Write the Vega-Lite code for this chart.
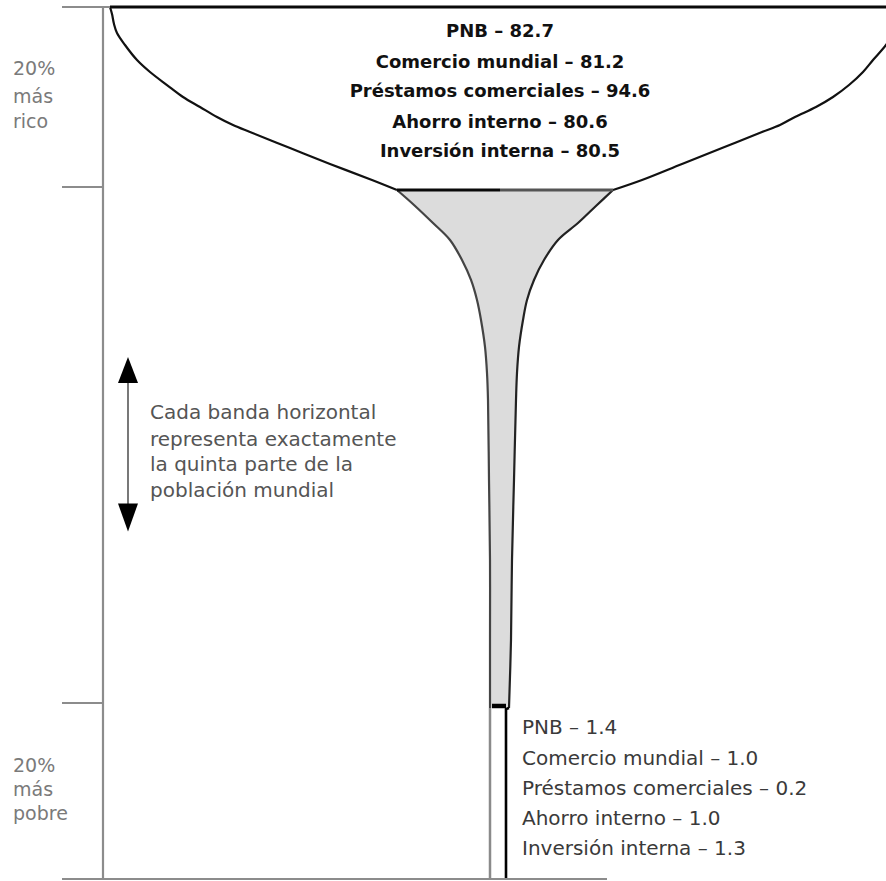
{
  "$schema": "https://vega.github.io/schema/vega-lite/v6.json",
  "width": 886,
  "height": 881,
  "autosize": "none",
  "padding": 0,
  "background": "white",
  "config": {"view": {"stroke": null}},
  "datasets": {
    "copa": [
      {"pop": 100, "izq": -390, "der": 412, "tramo": "rico"},
      {"pop": 99.22, "izq": -388, "der": 408, "tramo": "rico"},
      {"pop": 98.11, "izq": -386, "der": 399, "tramo": "rico"},
      {"pop": 97.11, "izq": -383, "der": 393, "tramo": "rico"},
      {"pop": 95.78, "izq": -375, "der": 386, "tramo": "rico"},
      {"pop": 94.11, "izq": -363, "der": 373, "tramo": "rico"},
      {"pop": 92.78, "izq": -350, "der": 363, "tramo": "rico"},
      {"pop": 91.33, "izq": -333, "der": 349, "tramo": "rico"},
      {"pop": 90.0, "izq": -317, "der": 333, "tramo": "rico"},
      {"pop": 88.89, "izq": -300, "der": 316, "tramo": "rico"},
      {"pop": 87.78, "izq": -283, "der": 295, "tramo": "rico"},
      {"pop": 86.89, "izq": -267, "der": 280, "tramo": "rico"},
      {"pop": 86.11, "izq": -250, "der": 262, "tramo": "rico"},
      {"pop": 84.33, "izq": -210, "der": 222, "tramo": "rico"},
      {"pop": 82.56, "izq": -170, "der": 182, "tramo": "rico"},
      {"pop": 80.78, "izq": -128, "der": 142, "tramo": "rico"},
      {"pop": 79.65, "izq": -103, "der": 113, "tramo": "medio"},
      {"pop": 77.91, "izq": -86, "der": 97, "tramo": "medio"},
      {"pop": 75.81, "izq": -67, "der": 78, "tramo": "medio"},
      {"pop": 73.84, "izq": -50, "der": 58, "tramo": "medio"},
      {"pop": 71.51, "izq": -38, "der": 44, "tramo": "medio"},
      {"pop": 69.19, "izq": -29, "der": 34, "tramo": "medio"},
      {"pop": 66.86, "izq": -23, "der": 27, "tramo": "medio"},
      {"pop": 64.53, "izq": -19, "der": 23, "tramo": "medio"},
      {"pop": 61.4, "izq": -15, "der": 19, "tramo": "medio"},
      {"pop": 58.37, "izq": -13, "der": 17, "tramo": "medio"},
      {"pop": 55.23, "izq": -12, "der": 16, "tramo": "medio"},
      {"pop": 45.93, "izq": -11, "der": 14, "tramo": "medio"},
      {"pop": 36.63, "izq": -10, "der": 12, "tramo": "medio"},
      {"pop": 27.33, "izq": -10, "der": 11, "tramo": "medio"},
      {"pop": 19.43, "izq": -10, "der": 9, "tramo": "medio"},
      {"pop": 19.3, "izq": -10, "der": 6, "tramo": "pobre"},
      {"pop": 0, "izq": -10, "der": 6, "tramo": "pobre"}
    ],
    "lineas": [
      {"x1": -390, "x2": 386, "pop": 100, "tipo": "negro"},
      {"x1": -103, "x2": 0, "pop": 79.65, "tipo": "negro"},
      {"x1": 0, "x2": 113, "pop": 79.65, "tipo": "grisoscuro"},
      {"x1": -438, "x2": -390, "pop": 100, "tipo": "gris"},
      {"x1": -438, "x2": -397, "pop": 80, "tipo": "gris"},
      {"x1": -438, "x2": -397, "pop": 20, "tipo": "gris"},
      {"x1": -438, "x2": 107, "pop": 0, "tipo": "gris"},
      {"x1": -8, "x2": 6, "pop": 19.66, "tipo": "barra"}
    ],
    "verticales": [
      {"x": -397, "p1": 0, "p2": 100, "tipo": "eje"},
      {"x": -372, "p1": 42.4, "p2": 58.2, "tipo": "flecha"}
    ],
    "puntas": [
      {"x": -372, "pop": 58.72, "dir": "arriba"},
      {"x": -372, "pop": 41.57, "dir": "abajo"}
    ],
    "textos": [
      {"texto": "PNB – 82.7", "x": 0, "pop": 97.22, "grupo": "rico"},
      {"texto": "Comercio mundial – 81.2", "x": 0, "pop": 93.78, "grupo": "rico"},
      {"texto": "Préstamos comerciales – 94.6", "x": 0, "pop": 90.56, "grupo": "rico"},
      {"texto": "Ahorro interno – 80.6", "x": 0, "pop": 87.11, "grupo": "rico"},
      {"texto": "Inversión interna – 80.5", "x": 0, "pop": 83.89, "grupo": "rico"},
      {"texto": "PNB – 1.4", "x": 22, "pop": 17.16, "grupo": "pobre"},
      {"texto": "Comercio mundial – 1.0", "x": 22, "pop": 13.64, "grupo": "pobre"},
      {"texto": "Préstamos comerciales – 0.2", "x": 22, "pop": 10.23, "grupo": "pobre"},
      {"texto": "Ahorro interno – 1.0", "x": 22, "pop": 6.82, "grupo": "pobre"},
      {"texto": "Inversión interna – 1.3", "x": 22, "pop": 3.41, "grupo": "pobre"},
      {"texto": "Cada banda horizontal", "x": -350, "pop": 53.72, "grupo": "nota"},
      {"texto": "representa exactamente", "x": -350, "pop": 50.58, "grupo": "nota"},
      {"texto": "la quinta parte de la", "x": -350, "pop": 47.67, "grupo": "nota"},
      {"texto": "población mundial", "x": -350, "pop": 44.65, "grupo": "nota"},
      {"texto": "20%", "x": -487, "pop": 93.11, "grupo": "eje"},
      {"texto": "más", "x": -487, "pop": 90.0, "grupo": "eje"},
      {"texto": "rico", "x": -487, "pop": 87.22, "grupo": "eje"},
      {"texto": "20%", "x": -487, "pop": 12.84, "grupo": "eje"},
      {"texto": "más", "x": -487, "pop": 10.11, "grupo": "eje"},
      {"texto": "pobre", "x": -487, "pop": 7.39, "grupo": "eje"}
    ]
  },
  "layer": [
    {
      "data": {"name": "copa"},
      "transform": [{"filter": "datum.tramo == 'medio'"}],
      "mark": {"type": "area", "orient": "horizontal", "color": "#dcdcdc", "interpolate": "catmull-rom", "clip": true},
      "encoding": {
        "y": {"field": "pop", "type": "quantitative", "axis": null, "scale": {"domain": [0, 20, 80, 100], "range": [879, 703, 187, 7], "nice": false, "zero": false}},
        "x": {"field": "izq", "type": "quantitative", "axis": null, "scale": {"domain": [-500, 386], "nice": false, "zero": false}},
        "x2": {"field": "der"}
      }
    },
    {
      "data": {"name": "copa"},
      "transform": [{"filter": "datum.pop >= 79.6"}],
      "mark": {"type": "line", "color": "#111", "strokeWidth": 2.2, "interpolate": "catmull-rom", "clip": true},
      "encoding": {
        "y": {"field": "pop", "type": "quantitative"},
        "x": {"field": "izq", "type": "quantitative"},
        "order": {"field": "pop", "type": "quantitative"}
      }
    },
    {
      "data": {"name": "copa"},
      "transform": [{"filter": "datum.pop <= 79.7 && datum.pop >= 19.4"}],
      "mark": {"type": "line", "color": "#444", "strokeWidth": 2.2, "interpolate": "catmull-rom", "clip": true},
      "encoding": {
        "y": {"field": "pop", "type": "quantitative"},
        "x": {"field": "izq", "type": "quantitative"},
        "order": {"field": "pop", "type": "quantitative"}
      }
    },
    {
      "data": {"name": "copa"},
      "transform": [{"filter": "datum.pop <= 19.5"}],
      "mark": {"type": "line", "color": "#8a8a8a", "strokeWidth": 2.5, "clip": true},
      "encoding": {
        "y": {"field": "pop", "type": "quantitative"},
        "x": {"field": "izq", "type": "quantitative"},
        "order": {"field": "pop", "type": "quantitative"}
      }
    },
    {
      "data": {"name": "copa"},
      "transform": [{"filter": "datum.pop >= 79.6"}],
      "mark": {"type": "line", "color": "#111", "strokeWidth": 2.2, "interpolate": "catmull-rom", "clip": true},
      "encoding": {
        "y": {"field": "pop", "type": "quantitative"},
        "x": {"field": "der", "type": "quantitative"},
        "order": {"field": "pop", "type": "quantitative"}
      }
    },
    {
      "data": {"name": "copa"},
      "transform": [{"filter": "datum.pop <= 79.7 && datum.pop >= 19.4"}],
      "mark": {"type": "line", "color": "#222", "strokeWidth": 2.2, "interpolate": "catmull-rom", "clip": true},
      "encoding": {
        "y": {"field": "pop", "type": "quantitative"},
        "x": {"field": "der", "type": "quantitative"},
        "order": {"field": "pop", "type": "quantitative"}
      }
    },
    {
      "data": {"name": "copa"},
      "transform": [{"filter": "datum.pop <= 19.5"}],
      "mark": {"type": "line", "color": "#000", "strokeWidth": 2.6, "clip": true},
      "encoding": {
        "y": {"field": "pop", "type": "quantitative"},
        "x": {"field": "der", "type": "quantitative"},
        "order": {"field": "pop", "type": "quantitative"}
      }
    },
    {
      "data": {"name": "verticales"},
      "transform": [{"filter": "datum.tipo == 'eje'"}],
      "mark": {"type": "rule", "color": "#8c8c8c", "strokeWidth": 2.2},
      "encoding": {
        "x": {"field": "x", "type": "quantitative"},
        "y": {"field": "p1", "type": "quantitative"},
        "y2": {"field": "p2"}
      }
    },
    {
      "data": {"name": "verticales"},
      "transform": [{"filter": "datum.tipo == 'flecha'"}],
      "mark": {"type": "rule", "color": "#6a6a6a", "strokeWidth": 1.8},
      "encoding": {
        "x": {"field": "x", "type": "quantitative"},
        "y": {"field": "p1", "type": "quantitative"},
        "y2": {"field": "p2"}
      }
    },
    {
      "data": {"name": "lineas"},
      "transform": [{"filter": "datum.tipo == 'gris'"}],
      "mark": {"type": "rule", "color": "#8c8c8c", "strokeWidth": 2.2},
      "encoding": {
        "x": {"field": "x1", "type": "quantitative"},
        "x2": {"field": "x2"},
        "y": {"field": "pop", "type": "quantitative"}
      }
    },
    {
      "data": {"name": "lineas"},
      "transform": [{"filter": "datum.tipo == 'negro'"}],
      "mark": {"type": "rule", "color": "#0a0a0a", "strokeWidth": 3},
      "encoding": {
        "x": {"field": "x1", "type": "quantitative"},
        "x2": {"field": "x2"},
        "y": {"field": "pop", "type": "quantitative"}
      }
    },
    {
      "data": {"name": "lineas"},
      "transform": [{"filter": "datum.tipo == 'grisoscuro'"}],
      "mark": {"type": "rule", "color": "#555", "strokeWidth": 3},
      "encoding": {
        "x": {"field": "x1", "type": "quantitative"},
        "x2": {"field": "x2"},
        "y": {"field": "pop", "type": "quantitative"}
      }
    },
    {
      "data": {"name": "lineas"},
      "transform": [{"filter": "datum.tipo == 'barra'"}],
      "mark": {"type": "rule", "color": "#000", "strokeWidth": 4.5},
      "encoding": {
        "x": {"field": "x1", "type": "quantitative"},
        "x2": {"field": "x2"},
        "y": {"field": "pop", "type": "quantitative"}
      }
    },
    {
      "data": {"name": "puntas"},
      "transform": [{"filter": "datum.dir == 'arriba'"}],
      "mark": {"type": "point", "shape": "M0,-1.3L1,1.3L-1,1.3Z", "filled": true, "color": "#000", "opacity": 1, "size": 400},
      "encoding": {
        "x": {"field": "x", "type": "quantitative"},
        "y": {"field": "pop", "type": "quantitative"}
      }
    },
    {
      "data": {"name": "puntas"},
      "transform": [{"filter": "datum.dir == 'abajo'"}],
      "mark": {"type": "point", "shape": "M0,1.4L1,-1.4L-1,-1.4Z", "filled": true, "color": "#000", "opacity": 1, "size": 400},
      "encoding": {
        "x": {"field": "x", "type": "quantitative"},
        "y": {"field": "pop", "type": "quantitative"}
      }
    },
    {
      "data": {"name": "textos"},
      "transform": [{"filter": "datum.grupo == 'rico'"}],
      "mark": {"type": "text", "align": "center", "baseline": "middle", "font": "DejaVu Sans", "fontWeight": "bold", "fontSize": 18, "color": "#111"},
      "encoding": {
        "x": {"field": "x", "type": "quantitative"},
        "y": {"field": "pop", "type": "quantitative"},
        "text": {"field": "texto"}
      }
    },
    {
      "data": {"name": "textos"},
      "transform": [{"filter": "datum.grupo == 'pobre'"}],
      "mark": {"type": "text", "align": "left", "baseline": "middle", "font": "DejaVu Sans", "fontSize": 20, "color": "#3a3a3a"},
      "encoding": {
        "x": {"field": "x", "type": "quantitative"},
        "y": {"field": "pop", "type": "quantitative"},
        "text": {"field": "texto"}
      }
    },
    {
      "data": {"name": "textos"},
      "transform": [{"filter": "datum.grupo == 'nota'"}],
      "mark": {"type": "text", "align": "left", "baseline": "middle", "font": "DejaVu Sans", "fontSize": 20, "color": "#555"},
      "encoding": {
        "x": {"field": "x", "type": "quantitative"},
        "y": {"field": "pop", "type": "quantitative"},
        "text": {"field": "texto"}
      }
    },
    {
      "data": {"name": "textos"},
      "transform": [{"filter": "datum.grupo == 'eje'"}],
      "mark": {"type": "text", "align": "left", "baseline": "middle", "font": "DejaVu Sans", "fontSize": 19, "color": "#7a7a7a"},
      "encoding": {
        "x": {"field": "x", "type": "quantitative"},
        "y": {"field": "pop", "type": "quantitative"},
        "text": {"field": "texto"}
      }
    }
  ]
}
